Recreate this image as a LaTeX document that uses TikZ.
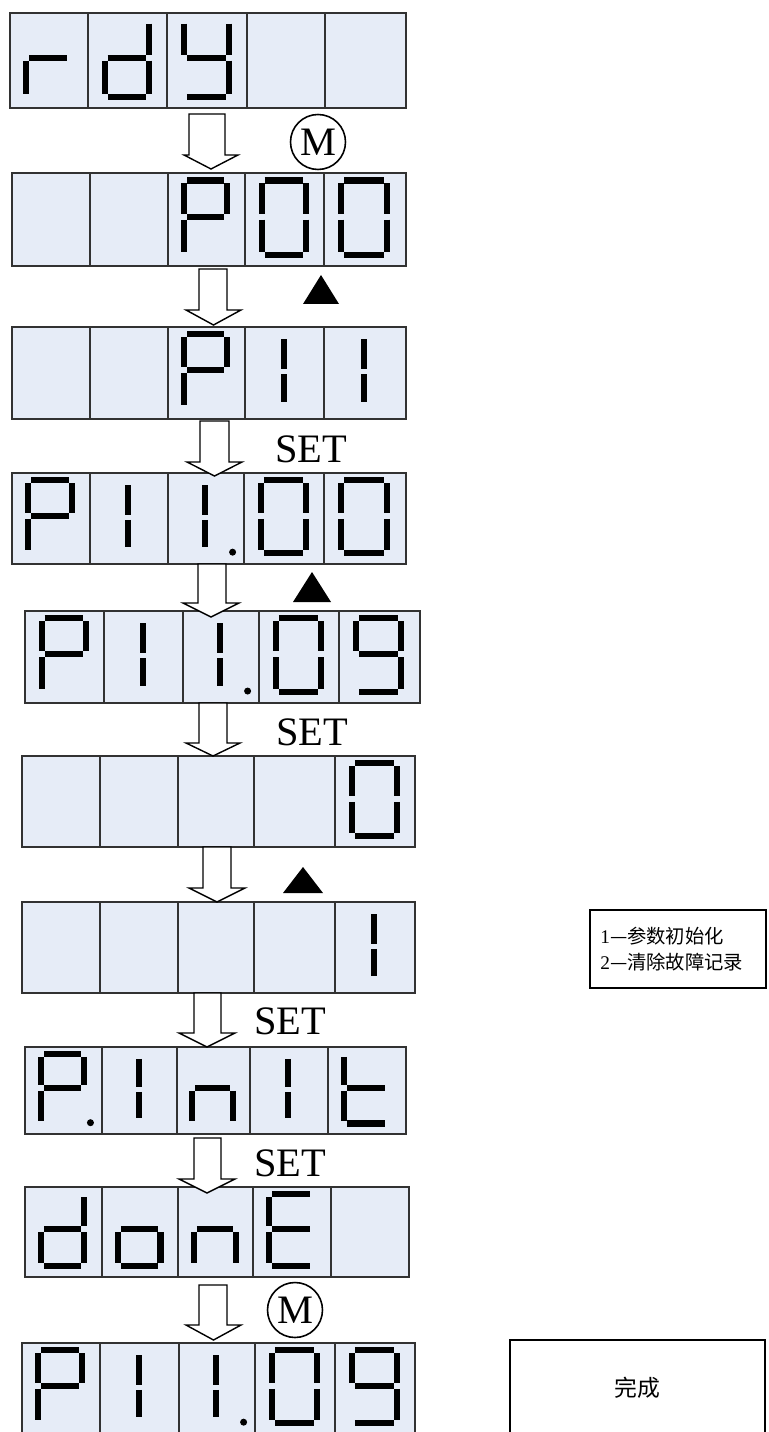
\documentclass[tikz,border=0pt]{standalone}
\usepackage{fontspec}
\setmainfont{Liberation Serif}
\newfontfamily\cjk{Noto Sans CJK SC}
\definecolor{lcd}{RGB}{230,236,247}
\definecolor{lcdline}{RGB}{50,50,50}
\tikzset{
  cellbox/.style={draw=lcdline,fill=lcd,line width=0.9pt},
  cellline/.style={draw=lcdline,line width=0.9pt},
  seg/.style={line width=3.5pt,line cap=butt,black},
  barr/.style={draw=black,fill=white,line width=0.8pt,line join=miter},
  setlbl/.style={font=\fontsize{23}{23}\selectfont,inner sep=0pt},
  mcirc/.style={draw,circle,line width=0.9pt,minimum size=1.1cm,inner sep=0pt,font=\fontsize{23}{23}\selectfont},
  notebox/.style={draw,line width=0.8pt},
  notetxt/.style={font=\cjk\fontsize{11}{13}\selectfont,inner sep=0pt,anchor=west}
}
\newcommand\lcdrow[8]{%
  \draw[cellbox] (#1,#2) rectangle (#3,#4);
  \foreach \d in {#5,#6,#7,#8} \draw[cellline] (\d,#2) -- (\d,#4);}
\newcommand\sga{\draw[seg] (\Xl+3,\Yt) -- (\Xr-3,\Yt);}
\newcommand\sgb{\draw[seg] (\Xr,\Yt+3) -- (\Xr,\Ym-3);}
\newcommand\sgc{\draw[seg] (\Xr,\Ym+3) -- (\Xr,\Yb-3);}
\newcommand\sgd{\draw[seg] (\Xl+3,\Yb) -- (\Xr-3,\Yb);}
\newcommand\sge{\draw[seg] (\Xl,\Ym+3) -- (\Xl,\Yb-3);}
\newcommand\sgf{\draw[seg] (\Xl,\Yt+3) -- (\Xl,\Ym-3);}
\newcommand\sgg{\draw[seg] (\Xl+3,\Ym) -- (\Xr-3,\Ym);}
\newcommand\sgi{\draw[seg] (\Xc,\Yt+5) -- (\Xc,\Ym-1);}
\newcommand\sgj{\draw[seg] (\Xc,\Ym+4) -- (\Xc,\Yb-6);}
\newcommand\sgp{\fill (\Xp,\Yp) circle [radius=3.5];}
\newcommand\digit[5]{%
  \pgfmathsetmacro\dw{#2-#1}\pgfmathsetmacro\dh{#4-#3}%
  \pgfmathsetmacro\Xl{#1+0.21*\dw}\pgfmathsetmacro\Xr{#1+0.77*\dw}\pgfmathsetmacro\Xc{#1+0.49*\dw}%
  \pgfmathsetmacro\Yt{#3+0.08*\dh}\pgfmathsetmacro\Yb{#3+0.88*\dh}\pgfmathsetmacro\Ym{#3+0.47*\dh}%
  \pgfmathsetmacro\Xp{#1+0.85*\dw}\pgfmathsetmacro\Yp{#3+0.87*\dh}%
  \foreach \s in {#5}{\csname sg\s\endcsname}}
\newcommand\barrow[7]{%
  \draw[barr] (#1,#3) -- (#2,#3) -- (#2,#4) -- (#6,#4) -- ({(#5+#6)/2},#7) -- (#5,#4) -- (#1,#4) -- cycle;}
\begin{document}
\begin{tikzpicture}[x=0.02cm,y=-0.02cm]
\useasboundingbox (0,0) rectangle (768,1432);
% row 1: rdY
\lcdrow{10}{13}{406}{108}{88}{167}{247}{325}
\digit{10}{88}{13}{108}{e,g}
\digit{88}{167}{13}{108}{b,c,d,e,g}
\digit{167}{247}{13}{108}{f,b,g,c,d}
% row 2: P00
\lcdrow{12}{173}{406}{266}{90}{168}{245}{324}
\digit{168}{245}{173}{266}{a,b,f,g,e}
\digit{245}{324}{173}{266}{a,b,c,d,e,f}
\digit{324}{406}{173}{266}{a,b,c,d,e,f}
% row 3: P11
\lcdrow{12}{327}{406}{419}{90}{168}{245}{324}
\digit{168}{245}{327}{419}{a,b,f,g,e}
\digit{245}{324}{327}{419}{i,j}
\digit{324}{406}{327}{419}{i,j}
% row 4: P11.00
\lcdrow{12}{473}{406}{564}{90}{168}{244}{324}
\digit{12}{90}{473}{564}{a,b,f,g,e}
\digit{90}{168}{473}{564}{i,j}
\digit{168}{244}{473}{564}{i,j,p}
\digit{244}{324}{473}{564}{a,b,c,d,e,f}
\digit{324}{406}{473}{564}{a,b,c,d,e,f}
% row 5: P11.09
\lcdrow{25}{611}{420}{703}{104}{183}{259}{339}
\digit{25}{104}{611}{703}{a,b,f,g,e}
\digit{104}{183}{611}{703}{i,j}
\digit{183}{259}{611}{703}{i,j,p}
\digit{259}{339}{611}{703}{a,b,c,d,e,f}
\digit{339}{420}{611}{703}{a,b,c,d,f,g}
% row 6: 0
\lcdrow{22}{756}{415}{847}{100}{178}{254}{335}
\digit{335}{415}{756}{847}{a,b,c,d,e,f}
% row 7: 1
\lcdrow{22}{902}{415}{993}{100}{178}{254}{335}
\digit{335}{415}{902}{993}{i,j}
% row 8: P.init
\lcdrow{25}{1047}{406}{1134}{102}{177}{250}{328}
\digit{25}{102}{1047}{1134}{a,b,f,g,e,p}
\digit{102}{177}{1047}{1134}{i,j}
\digit{177}{250}{1047}{1134}{g,e,c}
\digit{250}{328}{1047}{1134}{i,j}
\digit{328}{406}{1047}{1134}{f,e,g,d}
% row 9: donE
\lcdrow{25}{1187}{409}{1277}{102}{178}{253}{331}
\digit{25}{102}{1187}{1277}{b,c,d,e,g}
\digit{102}{178}{1187}{1277}{g,e,c,d}
\digit{178}{253}{1187}{1277}{g,e,c}
\digit{253}{331}{1187}{1277}{a,f,e,g,d}
% row 10: P11.09
\lcdrow{22}{1343}{415}{1434}{100}{179}{255}{335}
\digit{22}{100}{1343}{1434}{a,b,f,g,e}
\digit{100}{179}{1343}{1434}{i,j}
\digit{179}{255}{1343}{1434}{i,j,p}
\digit{255}{335}{1343}{1434}{a,b,c,d,e,f}
\digit{335}{415}{1343}{1434}{a,b,c,d,f,g}
% arrows
\barrow{189}{225}{114}{155}{184}{238}{169}
\barrow{199}{227}{269}{310}{186}{241}{325}
\barrow{200}{229}{421}{462}{187}{242}{476}
\barrow{198}{226}{564}{603}{183}{239}{617}
\barrow{199}{227}{703}{743}{186}{240}{756}
\barrow{203}{231}{847}{888}{189}{245}{902}
\barrow{194}{221}{993}{1033}{179}{235}{1047}
\barrow{194}{221}{1138}{1179}{179}{235}{1193}
\barrow{199}{227}{1285}{1325}{186}{241}{1340}
% key labels
\node[mcirc] (m1) at (318,142) {M};
\fill (303,304) -- (339,304) -- (321,275) -- cycle;
\node[setlbl,anchor=base] (set1) at (311,462) {SET};
\fill (293,602) -- (331,602) -- (312,572) -- cycle;
\node[setlbl,anchor=base] (set2) at (312,745) {SET};
\fill (283,893) -- (323,893) -- (303,867) -- cycle;
\node[setlbl,anchor=base] (set3) at (290,1034) {SET};
\node[setlbl,anchor=base] (set4) at (290,1176) {SET};
\node[mcirc] (m2) at (295,1310) {M};
% notes
\draw[notebox] (590,910) rectangle (766,988);
\node[notetxt] (n1) at (600,936) {{\rmfamily 1}—参数初始化};
\node[notetxt] (n2) at (600,962) {{\rmfamily 2}—清除故障记录};
\draw[notebox] (510,1340) rectangle (765,1445);
\node[font=\cjk\fontsize{13}{13}\selectfont,inner sep=0pt] (done) at (637,1388) {完成};
\end{tikzpicture}
\end{document}
